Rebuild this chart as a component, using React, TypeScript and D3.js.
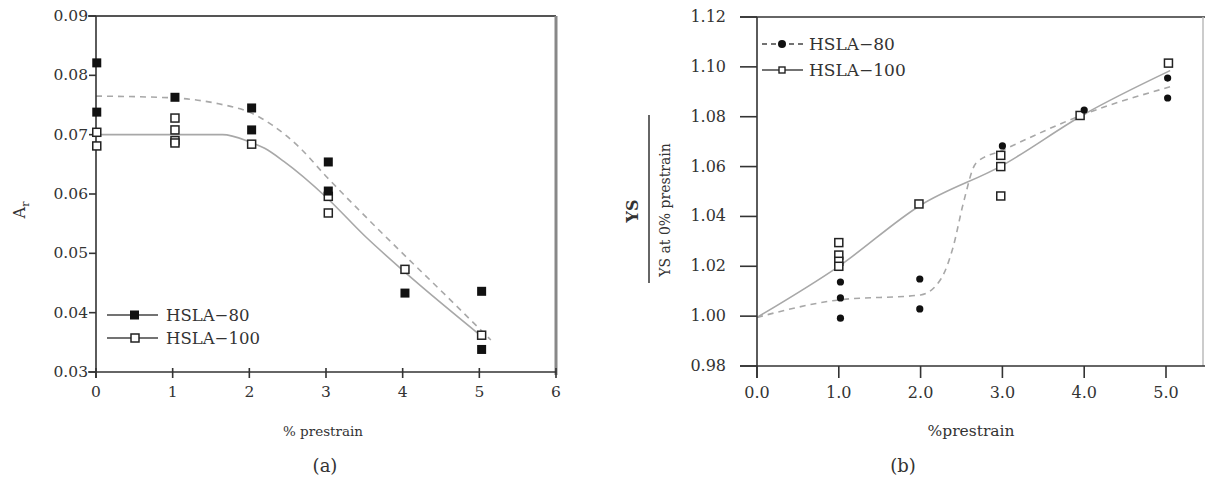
import React from "react";
import * as d3 from "d3";

// ---------- Panel (a) data ----------
const aXTicks = [0, 1, 2, 3, 4, 5, 6];
const aYTicks = [0.03, 0.04, 0.05, 0.06, 0.07, 0.08, 0.09];
const aH80X = [0.01, 0.01, 1.03, 2.03, 2.03, 3.03, 3.03, 4.03, 5.03, 5.03];
const aH80Y = [0.0821, 0.0738, 0.0763, 0.0745, 0.0708, 0.0654, 0.0605, 0.0433, 0.0436, 0.0338];
const aH100X = [0.01, 0.01, 1.03, 1.03, 1.03, 1.03, 2.03, 3.03, 3.03, 4.03, 5.03];
const aH100Y = [0.0704, 0.0681, 0.0728, 0.0708, 0.069, 0.0686, 0.0684, 0.0596, 0.0568, 0.0473, 0.0362];
const aFit80X = [0, 1, 1.6, 2, 2.3, 2.65, 3, 3.43, 3.92, 4.5, 5.15];
const aFit80Y = [0.0765, 0.0762, 0.0752, 0.0738, 0.0716, 0.0679, 0.063, 0.0573, 0.051, 0.0437, 0.0354];
const aFit100X = [0, 1.65, 2, 2.2, 2.45, 3, 3.5, 4.04, 5.05];
const aFit100Y = [0.07, 0.07, 0.0688, 0.0677, 0.0655, 0.0595, 0.053, 0.0467, 0.0358];

// ---------- Panel (b) data ----------
const bXTicks = [0, 1, 2, 3, 4, 5];
const bYTicks = [0.98, 1.0, 1.02, 1.04, 1.06, 1.08, 1.1, 1.12];
const bH80X = [1.02, 1.02, 1.02, 1.99, 1.99, 3.0, 4.0, 5.02, 5.02];
const bH80Y = [1.0137, 1.0073, 0.9992, 1.0149, 1.0029, 1.0683, 1.0827, 1.0955, 1.0875];
const bH100X = [1.0, 1.0, 1.0, 1.0, 1.98, 2.98, 2.98, 2.98, 3.95, 5.03];
const bH100Y = [1.0295, 1.0245, 1.022, 1.02, 1.045, 1.0645, 1.06, 1.0482, 1.0805, 1.1015];
const bFit80X = [0, 1, 2, 2.25, 2.4, 2.52, 2.68, 3, 4, 5.05];
const bFit80Y = [0.9995, 1.0065, 1.0085, 1.015, 1.028, 1.045, 1.0615, 1.0665, 1.081, 1.092];
const bFit100X = [0, 1, 2, 3, 4, 5.05];
const bFit100Y = [0.9995, 1.02, 1.0445, 1.0605, 1.081, 1.0985];

const FONT = "'DejaVu Serif', 'Liberation Serif', serif";
const TXT = "#333";
const LINE = "#a8a8a8";

const zip = (xs: number[], ys: number[]) => xs.map((x, i) => [x, ys[i]] as [number, number]);

export default function App() {
  const ax = d3.scaleLinear().domain([0, 6]).range([96, 556]);
  const ay = d3.scaleLinear().domain([0.03, 0.09]).range([372, 16]);
  const bx = d3.scaleLinear().domain([0, 5]).range([757, 1166]);
  const by = d3.scaleLinear().domain([0.98, 1.12]).range([366, 17]);

  const aLine = (xs: number[], ys: number[]) =>
    d3.line<[number, number]>().x((d) => ax(d[0])).y((d) => ay(d[1])).curve(d3.curveMonotoneX)(zip(xs, ys)) || "";
  const bLine = (xs: number[], ys: number[], curve: any) =>
    d3.line<[number, number]>().x((d) => bx(d[0])).y((d) => by(d[1])).curve(curve)(zip(xs, ys)) || "";

  const sq = 8;

  return (
    <svg
      width={1205}
      height={491}
      style={{ position: "absolute", left: 0, top: 0, background: "#fff", fontFamily: FONT }}
    >
      {/* ===================== Panel (a) ===================== */}
      <g>
        <path d={aLine(aFit80X, aFit80Y)} fill="none" stroke={LINE} strokeWidth={1.6} strokeDasharray="6,5" />
        <path d={aLine(aFit100X, aFit100Y)} fill="none" stroke={LINE} strokeWidth={1.6} />
        <line x1={88} x2={556} y1={ay(0.09)} y2={ay(0.09)} stroke="#555" strokeWidth={2} />
        <line x1={ax(6)} x2={ax(6)} y1={ay(0.09)} y2={ay(0.03) + 3} stroke="#888" strokeWidth={3} />
        <line x1={ax(0)} x2={ax(0)} y1={ay(0.09)} y2={ay(0.03) + 6} stroke="#333" strokeWidth={1.6} />
        <line x1={88} x2={ax(6)} y1={ay(0.03)} y2={ay(0.03)} stroke="#333" strokeWidth={1.6} />
        {aYTicks.map((t) => (
          <g key={"ay" + t}>
            <line x1={ax(0) - 7} x2={ax(0)} y1={ay(t)} y2={ay(t)} stroke="#333" strokeWidth={1.6} />
            <text x={ax(0) - 8} y={ay(t) + 5} textAnchor="end" fontSize={15.5} fill={TXT}>
              {t.toFixed(2)}
            </text>
          </g>
        ))}
        {aXTicks.map((t) => (
          <g key={"ax" + t}>
            <line x1={ax(t)} x2={ax(t)} y1={ay(0.03) - 4} y2={ay(0.03) + 6} stroke="#333" strokeWidth={1.6} />
            <text x={ax(t)} y={ay(0.03) + 25} textAnchor="middle" fontSize={15.5} fill={TXT}>
              {t}
            </text>
          </g>
        ))}
        {aH100X.map((x, i) => (
          <rect
            key={"a100" + i}
            x={ax(x) - sq / 2}
            y={ay(aH100Y[i]) - sq / 2}
            width={sq}
            height={sq}
            fill="#fff"
            stroke="#222"
            strokeWidth={1.5}
          />
        ))}
        {aH80X.map((x, i) => (
          <rect key={"a80" + i} x={ax(x) - 4.5} y={ay(aH80Y[i]) - 4.5} width={9} height={9} fill="#111" />
        ))}
        {/* legend */}
        <line x1={107} x2={158} y1={315} y2={315} stroke="#444" strokeWidth={1.5} />
        <rect x={130} y={310.5} width={9} height={9} fill="#111" />
        <text x={166} y={321} fontSize={16.5} fill={TXT}>HSLA−80</text>
        <line x1={107} x2={158} y1={338} y2={338} stroke="#444" strokeWidth={1.5} />
        <rect x={131} y={334} width={8} height={8} fill="#fff" stroke="#222" strokeWidth={1.5} />
        <text x={166} y={344} fontSize={16.5} fill={TXT}>HSLA−100</text>
        <text transform="translate(25,210) rotate(-90)" fontSize={16} fill={TXT} textAnchor="middle">
          A<tspan fontSize={11} dy={4}>r</tspan>
        </text>
        <text x={323} y={436} textAnchor="middle" fontSize={13.5} fill={TXT}>% prestrain</text>
        <text x={325} y={472} textAnchor="middle" fontSize={18} fill={TXT}>(a)</text>
      </g>

      {/* ===================== Panel (b) ===================== */}
      <g>
        <path d={bLine(bFit80X, bFit80Y, d3.curveMonotoneX)} fill="none" stroke={LINE} strokeWidth={1.6} strokeDasharray="6,5" />
        <path d={bLine(bFit100X, bFit100Y, d3.curveMonotoneX)} fill="none" stroke={LINE} strokeWidth={1.6} />
        <line x1={740} x2={1205} y1={by(1.12)} y2={by(1.12)} stroke="#666" strokeWidth={2} />
        <line x1={1203} x2={1203} y1={by(1.12)} y2={by(0.98)} stroke="#bbb" strokeWidth={1.5} />
        <line x1={bx(0)} x2={bx(0)} y1={by(1.12)} y2={by(0.98) + 12} stroke="#333" strokeWidth={1.6} />
        <line x1={740} x2={1205} y1={by(0.98)} y2={by(0.98)} stroke="#333" strokeWidth={1.6} />
        {bYTicks.map((t) => (
          <g key={"by" + t}>
            <line x1={740} x2={bx(0)} y1={by(t)} y2={by(t)} stroke="#333" strokeWidth={1.6} />
            <text x={726} y={by(t) + 5} textAnchor="end" fontSize={16} fill={TXT}>
              {t.toFixed(2)}
            </text>
          </g>
        ))}
        {bXTicks.map((t) => (
          <g key={"bx" + t}>
            <line x1={bx(t)} x2={bx(t)} y1={by(0.98)} y2={by(0.98) + 12} stroke="#333" strokeWidth={1.6} />
            <text x={bx(t)} y={by(0.98) + 32} textAnchor="middle" fontSize={16} fill={TXT}>
              {t.toFixed(1)}
            </text>
          </g>
        ))}
        {bH100X.map((x, i) => (
          <rect
            key={"b100" + i}
            x={bx(x) - sq / 2}
            y={by(bH100Y[i]) - sq / 2}
            width={sq}
            height={sq}
            fill="#fff"
            stroke="#222"
            strokeWidth={1.5}
          />
        ))}
        {bH80X.map((x, i) => (
          <circle key={"b80" + i} cx={bx(x)} cy={by(bH80Y[i])} r={3.6} fill="#111" />
        ))}
        {/* legend */}
        <line x1={762} x2={803} y1={44} y2={44} stroke="#444" strokeWidth={1.4} strokeDasharray="5,4" />
        <circle cx={782} cy={44} r={4} fill="#111" />
        <text x={809} y={50} fontSize={17} fill={TXT}>HSLA−80</text>
        <line x1={762} x2={803} y1={70} y2={70} stroke="#444" strokeWidth={1.4} />
        <rect x={779} y={67} width={6} height={6} fill="#fff" stroke="#222" strokeWidth={1.4} />
        <text x={809} y={76} fontSize={17} fill={TXT}>HSLA−100</text>
        <text transform="translate(638,211) rotate(-90)" fontSize={16} fontWeight="bold" fill={TXT} textAnchor="middle">
          YS
        </text>
        <line x1={649} x2={649} y1={115} y2={283} stroke="#333" strokeWidth={1.5} />
        <text transform="translate(670,210) rotate(-90)" fontSize={14} fill={TXT} textAnchor="middle">
          YS at 0% prestrain
        </text>
        <text x={971} y={436} textAnchor="middle" fontSize={15.5} fill={TXT}>%prestrain</text>
        <text x={903} y={472} textAnchor="middle" fontSize={18} fill={TXT}>(b)</text>
      </g>
    </svg>
  );
}
